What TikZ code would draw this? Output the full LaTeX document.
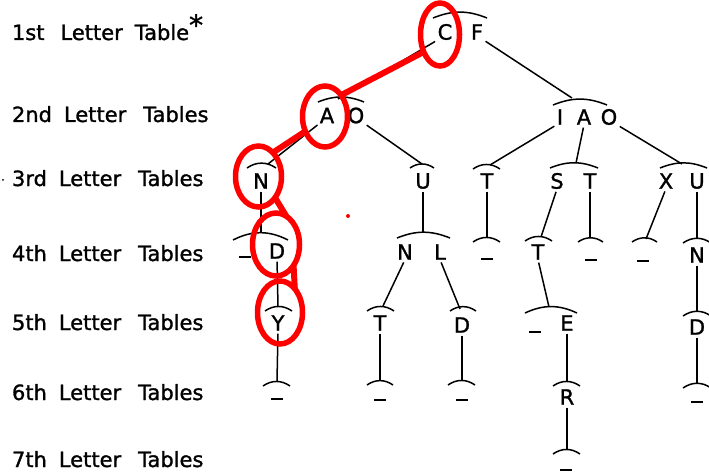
\documentclass[tikz,border=0pt]{standalone}
\usepackage{fontspec}
\setmainfont{DejaVu Sans}[BoldFont={DejaVu Sans}, BoldFeatures={FakeBold=1.3}]
\usetikzlibrary{shapes.geometric}
\definecolor{hilite}{RGB}{255,0,0}
% gaps between the words of a level label
\newcommand\gapa{\hspace{12pt}}
\newcommand\gapb{\hspace{17pt}}
\begin{document}
\begin{tikzpicture}[x=1pt,y=-1pt,
  every node/.style={inner sep=0pt, outer sep=0pt},
  letter/.style={font=\bfseries\fontsize{21}{21}\selectfont},
  level/.style={anchor=base west, font=\bfseries\fontsize{21}{21}\selectfont},
  blank/.style={fill=black, minimum width=12pt, minimum height=2pt},
  edge/.style={line width=1.5pt, shorten <=3pt},
  tie/.style={line width=1.5pt},
  ring/.style={ellipse, draw=hilite, line width=5.5pt, outer sep=0pt},
  trail/.style={draw=hilite, line width=6pt}]
\useasboundingbox (0,0) rectangle (709,473);

% table levels
\node[level] (l1) at (12,40)  {1st\hspace{16pt}Letter\gapa Table{\fontsize{28}{28}\selectfont\raisebox{5pt}{*}}};
\node[level] (l2) at (12,122) {2nd\gapa Letter\gapb Tables};
\node[level] (l3) at (12,186) {3rd\gapa Letter\gapb Tables};
\node[level] (l4) at (12,261) {4th\gapa Letter\gapb Tables};
\node[level] (l5) at (12,330) {5th\gapa Letter\gapb Tables};
\node[level] (l6) at (12,400) {6th\gapa Letter\gapb Tables};
\node[level] (l7) at (12,467) {7th\gapa Letter\gapb Tables};
\fill (3,180) circle (1pt);

% letters of each table
\node[letter] (C)   at (445,32)    {C};
\node[letter] (F)   at (477,32)    {F};
\node[letter] (A2)  at (327,115.5) {A};
\node[letter] (O2)  at (356,115.5) {O};
\node[letter] (I2b) at (560,117)   {I};
\node[letter] (A2b) at (584,117)   {A};
\node[letter] (O2b) at (609,117)   {O};
\node[letter] (N3)  at (261,181)   {N};
\node[letter] (U3)  at (423,181)   {U};
\node[letter] (T3a) at (487,181)   {T};
\node[letter] (S3)  at (557,181)   {S};
\node[letter] (T3b) at (590,181)   {T};
\node[letter] (X3)  at (666,181)   {X};
\node[letter] (U3b) at (697,181)   {U};
\node[blank]  (e4a) at (245,257)   {};
\node[letter] (D4)  at (277,251)   {D};
\node[letter] (N4)  at (405,252)   {N};
\node[letter] (L4)  at (440,252)   {L};
\node[blank]  (e4b) at (487,259)   {};
\node[letter] (T4)  at (538,252)   {T};
\node[blank]  (e4c) at (591,260)   {};
\node[blank]  (e4d) at (643,261)   {};
\node[letter] (N4b) at (697,255)   {N};
\node[letter] (Y5)  at (278,323)   {Y};
\node[letter] (T5)  at (380,323)   {T};
\node[letter] (D5)  at (462,325)   {D};
\node[blank]  (e5a) at (535,332)   {};
\node[letter] (E5)  at (567,323)   {E};
\node[letter] (D5b) at (697,327)   {D};
\node[blank]  (e6a) at (277,399)   {};
\node[blank]  (e6b) at (380,400)   {};
\node[blank]  (e6c) at (462,400)   {};
\node[letter] (R6)  at (567,397)   {R};
\node[blank]  (e6d) at (697,402)   {};
\node[blank]  (e7a) at (566,470)   {};

% arcs grouping the letters of one table
\foreach \xa/\xb/\yy/\bd in {
  433/487/18/22, 318/364/102/22, 553/607/105/22,
  247/276/168/35, 410/434/168/35, 473/500/169/35, 550/598/168/22, 660/707/168/22,
  233/288/240/27, 397/450/238/22, 473/500/242/35, 525/552/241/35,
  578/603/242/35, 632/657/242/35, 683/711/243/35,
  265/292/311/35, 367/394/311/35, 450/476/311/35, 525/577/313/25, 683/711/316/35,
  263/290/386/35, 367/393/385/35, 448/475/385/35, 553/580/386/35, 683/711/388/35,
  553/580/454/35}
  \draw[tie] (\xa,\yy) to[bend left=\bd] (\xb,\yy);

% points where branches meet the arcs
\coordinate (pAO)  at (338,99);
\coordinate (pIAO) at (572,98);
\coordinate (pU3)  at (422,164);
\coordinate (pN3)  at (268,164);
\coordinate (pT3a) at (490,165);
\coordinate (pST)  at (576,163);
\coordinate (pXU)  at (682,164);
\coordinate (pD4)  at (261,232);
\coordinate (pNL)  at (423,232);
\coordinate (pe4b) at (487,238);
\coordinate (pT4)  at (541,237);
\coordinate (pe4c) at (590,238);
\coordinate (pe4d) at (646,239);
\coordinate (pN4b) at (697,239);
\coordinate (pY5)  at (278,307);
\coordinate (pT5)  at (383,306);
\coordinate (pD5)  at (460,309);
\coordinate (pE5)  at (549,307);
\coordinate (pD5b) at (697,312);
\coordinate (pe6a) at (277,381);
\coordinate (pe6b) at (380,380);
\coordinate (pe6c) at (462,381);
\coordinate (pR6)  at (567,381);
\coordinate (pe6d) at (697,384);
\coordinate (pe7a) at (567,449);

% branches
\draw[edge] (C.south west)   -- (pAO);
\draw[edge] (F.south east)   -- (pIAO);
\draw[edge] (O2.south east)  -- (pU3);
\draw[edge] (A2.south west)  -- (pN3);
\draw[edge] (I2b.south west) -- (pT3a);
\draw[edge] (A2b.south)      -- (pST);
\draw[edge] (O2b.south east) -- (pXU);
\draw[edge] (N3.south)  -- (pD4);
\draw[edge] (U3.south)  -- (pNL);
\draw[edge] (T3a.south) -- (pe4b);
\draw[edge] (S3.south)  -- (pT4);
\draw[edge] (T3b.south) -- (pe4c);
\draw[edge] (X3.south)  -- (pe4d);
\draw[edge] (U3b.south) -- (pN4b);
\draw[edge] (D4.south)  -- (pY5);
\draw[edge] (N4.south)  -- (pT5);
\draw[edge] (L4.south)  -- (pD5);
\draw[edge] (T4.south)  -- (pE5);
\draw[edge] (N4b.south) -- (pD5b);
\draw[edge] (Y5.south)  -- (pe6a);
\draw[edge] (T5.south)  -- (pe6b);
\draw[edge] (D5.south)  -- (pe6c);
\draw[edge] (E5.south)  -- (pR6);
\draw[edge] (D5b.south) -- (pe6d);
\draw[edge] (R6.south)  -- (pe7a);

% highlighted path C-A-N-D-Y
\node[ring, minimum width=39pt, minimum height=63pt] (rC) at (440,34.5)  {};
\node[ring, minimum width=45pt, minimum height=61pt] (rA) at (325,116.5) {};
\node[ring, minimum width=46pt, minimum height=61pt] (rN) at (258.5,176.5) {};
\node[ring, minimum width=47pt, minimum height=63pt] (rD) at (276,244.5) {};
\node[ring, minimum width=45pt, minimum height=63pt] (rY) at (280,312.5) {};
\draw[trail] (rC.227) -- (rA.53);
\draw[trail] (rA.217) -- (rN.59);
\draw[trail] (rN.308) -- (rD.70);
\draw[trail] (rD.310) -- (rY.58);
\fill[hilite] (348,216) circle (2pt);
\end{tikzpicture}
\end{document}
